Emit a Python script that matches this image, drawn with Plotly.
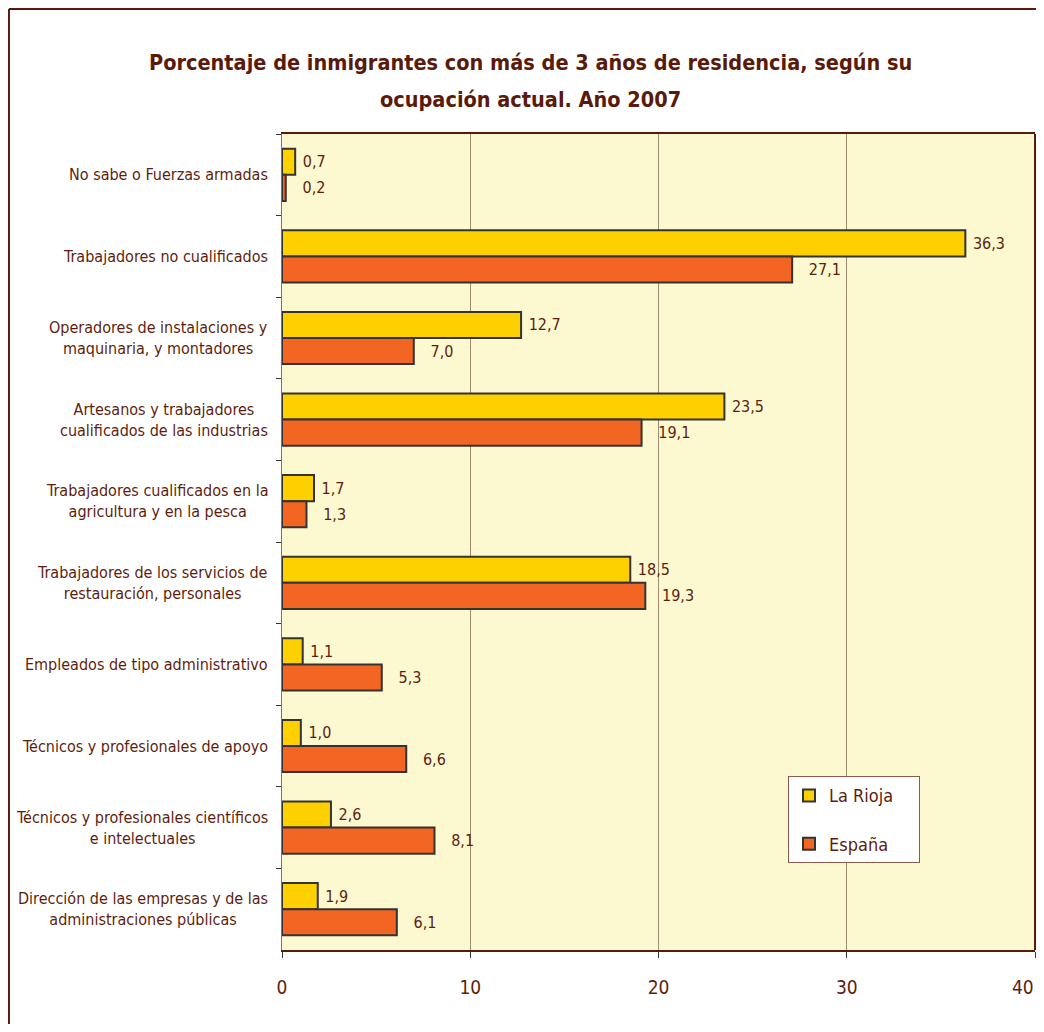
import plotly.graph_objects as go

categories = [
    "No sabe o Fuerzas armadas",
    "Trabajadores no cualificados",
    "Operadores de instalaciones y<br>maquinaria, y montadores",
    "Artesanos y trabajadores<br>cualificados de las industrias",
    "Trabajadores cualificados en la<br>agricultura y en la pesca",
    "Trabajadores de los servicios de<br>restauración, personales",
    "Empleados de tipo administrativo",
    "Técnicos y profesionales de apoyo",
    "Técnicos y profesionales científicos<br>e intelectuales",
    "Dirección de las empresas y de las<br>administraciones públicas",
]
la_rioja = [0.7, 36.3, 12.7, 23.5, 1.7, 18.5, 1.1, 1.0, 2.6, 1.9]
espana = [0.2, 27.1, 7.0, 19.1, 1.3, 19.3, 5.3, 6.6, 8.1, 6.1]
x_ticks = [0, 10, 20, 30, 40]
title_lines = [
    "Porcentaje de inmigrantes con más de 3 años de residencia, según su",
    "ocupación actual. Año 2007",
]

FONT = "Liberation Sans Narrow, Arial Narrow, DejaVu Sans Condensed, sans-serif"
TXT = "#5E1E0E"
BROWN = "#5A1A0A"

def fmt(v):
    return f"{v:.1f}".replace(".", ",")

fig = go.Figure()
fig.add_trace(go.Bar(
    y=categories, x=la_rioja, orientation="h", name="La Rioja    ",
    marker=dict(color="#FFD000", line=dict(color="#333333", width=2)),
    text=[" " + fmt(v) for v in la_rioja], textposition="outside",
    textfont=dict(family=FONT, size=16, color=TXT), constraintext="none",
    cliponaxis=False, legendgroup="a",
))
fig.add_trace(go.Bar(
    y=categories, x=espana, orientation="h", name="España    ",
    marker=dict(color="#F26522", line=dict(color="#333333", width=2)),
    text=["   " + fmt(v) for v in espana], textposition="outside",
    textfont=dict(family=FONT, size=16, color=TXT), constraintext="none",
    cliponaxis=False, legendgroup="b",
))

annotations = []
for c in categories:
    annotations.append(dict(
        x=-0.016, xref="paper", y=c, yref="y", text=c, showarrow=False,
        xanchor="right", yanchor="middle", align="center",
        font=dict(family=FONT, size=16, color=TXT),
    ))
for txt, yy in zip(title_lines, [1.088, 1.0417]):
    annotations.append(dict(
        x=0.33, xref="paper", y=yy, yref="paper", text=f"<b>{txt}</b>",
        showarrow=False, xanchor="center", yanchor="middle",
        font=dict(family=FONT, size=21.5, color=BROWN),
    ))
# last x tick label, kept inside the page edge
annotations.append(dict(
    x=x_ticks[-1], xref="x", y=-0.0453, yref="paper", text=str(x_ticks[-1]),
    showarrow=False, xanchor="right", yanchor="middle", xshift=1,
    font=dict(family=FONT, size=19, color=TXT),
))

shapes = [
    dict(type="line", xref="paper", yref="paper", x0=1, x1=1, y0=0, y1=1,
         line=dict(color=BROWN, width=2)),
    dict(type="line", xref="paper", yref="paper", x0=-0.3626, x1=1.002,
         y0=1.1532, y1=1.1532, line=dict(color=BROWN, width=2)),
    dict(type="line", xref="paper", yref="paper", x0=-0.3626, x1=-0.3626,
         y0=-0.11, y1=1.1532, line=dict(color=BROWN, width=2)),
]

fig.update_layout(
    width=1028, height=1016,
    margin=dict(l=274, r=1, t=126, b=74, autoexpand=False),
    paper_bgcolor="white", plot_bgcolor="#FCF8D0",
    barmode="group", bargap=0.36, bargroupgap=0,
    font=dict(family=FONT, color=TXT),
    xaxis=dict(
        range=[0, 40], tickvals=x_ticks,
        ticktext=[str(v) for v in x_ticks[:-1]] + [""],
        showgrid=True, gridcolor="#A08A70", gridwidth=1,
        showline=True, linecolor=BROWN, linewidth=2, mirror=True,
        ticks="outside", ticklen=6, tickcolor="#333333",
        ticklabelstandoff=13, automargin=False,
        tickfont=dict(family=FONT, size=19, color=TXT),
        zeroline=False, fixedrange=True,
    ),
    yaxis=dict(
        categoryorder="array", categoryarray=categories, autorange="reversed",
        showticklabels=False, ticks="outside", tickson="boundaries",
        ticklen=5, tickcolor="#333333", automargin=False,
        showline=True, linecolor="#8A7060", linewidth=1, showgrid=False,
    ),
    legend=dict(
        x=0.672, y=0.213, xanchor="left", yanchor="top",
        bgcolor="white", bordercolor="#8B5A4A", borderwidth=1,
        font=dict(family=FONT, size=18, color=TXT),
        traceorder="grouped", tracegroupgap=22,
    ),
    annotations=annotations,
    shapes=shapes,
)

fig.write_html("out.html")
